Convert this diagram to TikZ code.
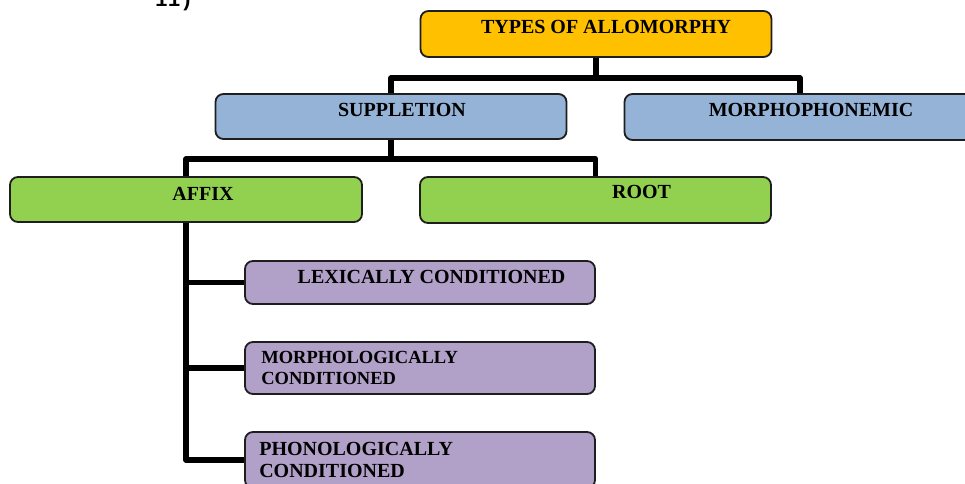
\documentclass[tikz,border=0pt]{standalone}
\usepackage{fontspec}
\setmainfont{Liberation Serif}
\newfontfamily\listfont{Liberation Mono}
\usepackage{tikz}
\usetikzlibrary{arrows,shapes,positioning}
\usepackage{xcolor}
\definecolor{amgold}{RGB}{255,192,0}
\definecolor{amblue}{RGB}{149,179,215}
\definecolor{amgreen}{RGB}{146,208,80}
\definecolor{amlilac}{RGB}{177,160,199}
\definecolor{amedge}{RGB}{30,30,30}
\tikzstyle{branch} = [line width=5.5pt, line join=round, color=black]
\tikzstyle{typebox} = [rectangle, rounded corners=8pt, minimum width=351pt, minimum height=46pt, inner sep=0pt, draw=amedge, line width=1.8pt]
\tikzstyle{boxlabel} = [inner sep=0pt, font=\fontsize{20}{22}\selectfont\bfseries]

\begin{document}
\begin{tikzpicture}[x=1pt, y=-1pt]
\useasboundingbox (0,0) rectangle (965,483);
\clip (0,0) rectangle (965,483);

% cut-off number above the chart
\node (number) [anchor=base west, inner sep=0pt, font=\fontsize{21}{24}\listfont\bfseries] at (155,6) {11)};

% Level 1: types
\node (types) [typebox, fill=amgold] at (596,34) {};
\node (types-txt) [boxlabel] at ([shift={(10,-7)}]types.center) {TYPES OF ALLOMORPHY};

% Level 2: suppletion and morphophonemic
\node (suppletion) [typebox, fill=amblue, minimum height=45pt] at (391,116.5) {};
\node (suppletion-txt) [boxlabel] at ([shift={(11,-6.5)}]suppletion.center) {SUPPLETION};

\node (morphophonemic) [typebox, fill=amblue] at (800,117) {};
\node (morphophonemic-txt) [boxlabel] at ([shift={(11,-7)}]morphophonemic.center) {MORPHOPHONEMIC};

% Level 3: affix and root
\node (affix) [typebox, fill=amgreen, minimum width=352pt, minimum height=45pt] at (186,199.5) {};
\node (affix-txt) [boxlabel] at ([shift={(17,-5.5)}]affix.center) {AFFIX};

\node (root) [typebox, fill=amgreen] at (595.5,200) {};
\node (root-txt) [boxlabel] at ([shift={(46,-8)}]root.center) {ROOT};

% Level 4: conditioning of affixes
\node (lexical) [typebox, fill=amlilac, minimum width=350pt, minimum height=43pt] at (420,282.5) {};
\node (lexical-txt) [boxlabel] at ([shift={(11.5,-5.5)}]lexical.center) {LEXICALLY CONDITIONED};

\node (morphological) [typebox, fill=amlilac, minimum width=350pt, minimum height=52pt] at (420,368) {};
\node (morphological-txt) [boxlabel, anchor=west, align=left, font=\fontsize{18.5}{21}\selectfont\bfseries] at ([xshift=17pt]morphological.west) {MORPHOLOGICALLY\\CONDITIONED};

\node (phonological) [typebox, fill=amlilac, minimum width=350pt, minimum height=56pt] at (420,460) {};
\node (phonological-txt) [boxlabel, anchor=west, align=left] at ([xshift=15pt]phonological.west) {PHONOLOGICALLY\\CONDITIONED};

% connectors
\draw[branch] (types.south) -- ++(0,20) coordinate (types-j);
\draw[branch] (suppletion.north) |- (types-j) -| (morphophonemic.north);
\draw[branch] (suppletion.south) -- ++(0,19) coordinate (suppletion-j);
\draw[branch] (affix.north) |- (suppletion-j) -| (root.north);
\foreach \kind in {lexical, morphological, phonological}
  \draw[branch] (affix.south) |- (\kind.west);

\end{tikzpicture}
\end{document}
